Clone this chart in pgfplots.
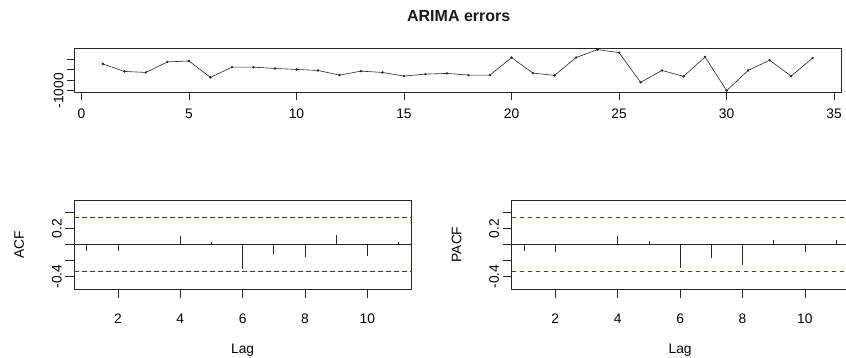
\documentclass[border=0pt]{standalone}
\usepackage{fontspec}
\setmainfont{Liberation Sans}
\usepackage{pgfplots}
\pgfplotsset{compat=1.18}
\definecolor{ciblue}{RGB}{40,40,255}

\pgfplotsset{
  rstyle/.style={
    scale only axis,
    axis line style={line width=0.8pt, black!85},
    tick pos=left, tick align=outside,
    major tick length=8pt,
    tick style={line width=0.8pt, black!85},
    every tick label/.append style={font=\fontsize{13.8}{16}\selectfont},
    /pgf/number format/assume math mode=true,
    label style={font=\fontsize{13.8}{16}\selectfont},
    yticklabel style={rotate=90, anchor=south},
  },
}

\begin{document}
\begin{tikzpicture}
% ---------- time series ----------
\begin{axis}[rstyle, at={(74.5pt,265.7pt)}, anchor=south west,
  width=766.5pt, height=44.3pt,
  xmin=-0.32, xmax=35.32, ymin=-1073, ymax=1037,
  major tick length=7.5pt,
  xticklabel style={yshift=-6pt},
  xtick={0,5,...,35}, ytick={-1000,-500,0,500},
  yticklabels={-1000,{},{},{}}]
\addplot[black!85, line width=0.6pt, mark=*, mark size=0.9pt] coordinates {
(1,279) (2,-80) (3,-127) (4,374) (5,421) (6,-363) (7,123) (8,123)
(9,62) (10,15) (11,-32) (12,-254) (13,-65) (14,-127) (15,-301) (16,-207)
(17,-174) (18,-254) (19,-254) (20,581) (21,-160) (22,-268) (23,581) (24,959)
(25,817) (26,-599) (27,-32) (28,-316) (29,610) (30,-995) (31,-32) (32,454)
(33,-301) (34,562)};
\end{axis}

% ---------- ACF ----------
\begin{axis}[rstyle, at={(74.3pt,69pt)}, anchor=south west,
  width=336.7pt, height=89pt,
  major tick length=9pt,
  xticklabel style={yshift=-12pt},
  xmin=0.6, xmax=11.4, ymin=-0.5557, ymax=0.5557,
  xtick={2,4,...,10}, ytick={-0.4,-0.2,0,0.2,0.4},
  yticklabels={-0.4,{},{},0.2,{}},
  xlabel={Lag}, ylabel={ACF},
  xlabel style={at={(axis description cs:0.5,-0.69)}, anchor=center},
  ylabel style={at={(axis description cs:-0.164,0.5)}, anchor=center}]
\addplot[draw=ciblue, line width=1.5pt, dash pattern=on 4.5pt off 3.5pt] coordinates {(0.6,0.3361) (11.4,0.3361)};
\addplot[draw=ciblue, line width=1.5pt, dash pattern=on 4.5pt off 3.5pt] coordinates {(0.6,-0.3361) (11.4,-0.3361)};
\addplot[black!85, line width=0.8pt] coordinates {(0.6,0) (11.4,0)};
\addplot[ycomb, black!85, line width=0.8pt] coordinates {
(1,-0.083) (2,-0.083) (3,0.005) (4,0.104) (5,0.030) (6,-0.304)
(7,-0.113) (8,-0.154) (9,0.121) (10,-0.138) (11,0.033)};
\end{axis}

% ---------- PACF ----------
\begin{axis}[rstyle, at={(511.6pt,69pt)}, anchor=south west,
  width=337pt, height=89pt,
  major tick length=9pt,
  xticklabel style={yshift=-12pt},
  xmin=0.6, xmax=11.4, ymin=-0.5557, ymax=0.5557,
  xtick={2,4,...,10}, ytick={-0.4,-0.2,0,0.2,0.4},
  yticklabels={-0.4,{},{},0.2,{}},
  xlabel={Lag}, ylabel={PACF},
  xlabel style={at={(axis description cs:0.5,-0.69)}, anchor=center},
  ylabel style={at={(axis description cs:-0.163,0.5)}, anchor=center}]
\addplot[draw=ciblue, line width=1.5pt, dash pattern=on 4.5pt off 3.5pt] coordinates {(0.6,0.3361) (11.4,0.3361)};
\addplot[draw=ciblue, line width=1.5pt, dash pattern=on 4.5pt off 3.5pt] coordinates {(0.6,-0.3361) (11.4,-0.3361)};
\addplot[black!85, line width=0.8pt] coordinates {(0.6,0) (11.4,0)};
\addplot[ycomb, black!85, line width=0.8pt] coordinates {
(1,-0.083) (2,-0.092) (3,-0.010) (4,0.104) (5,0.042) (6,-0.296)
(7,-0.167) (8,-0.258) (9,0.054) (10,-0.092) (11,0.054)};
\end{axis}

\node[font=\bfseries\fontsize{16}{19}\selectfont, text=black!90] at (458.7pt,342pt) {ARIMA errors};

\pgfresetboundingbox
\useasboundingbox (0pt,0pt) rectangle (846pt,358pt);
\end{tikzpicture}
\end{document}
